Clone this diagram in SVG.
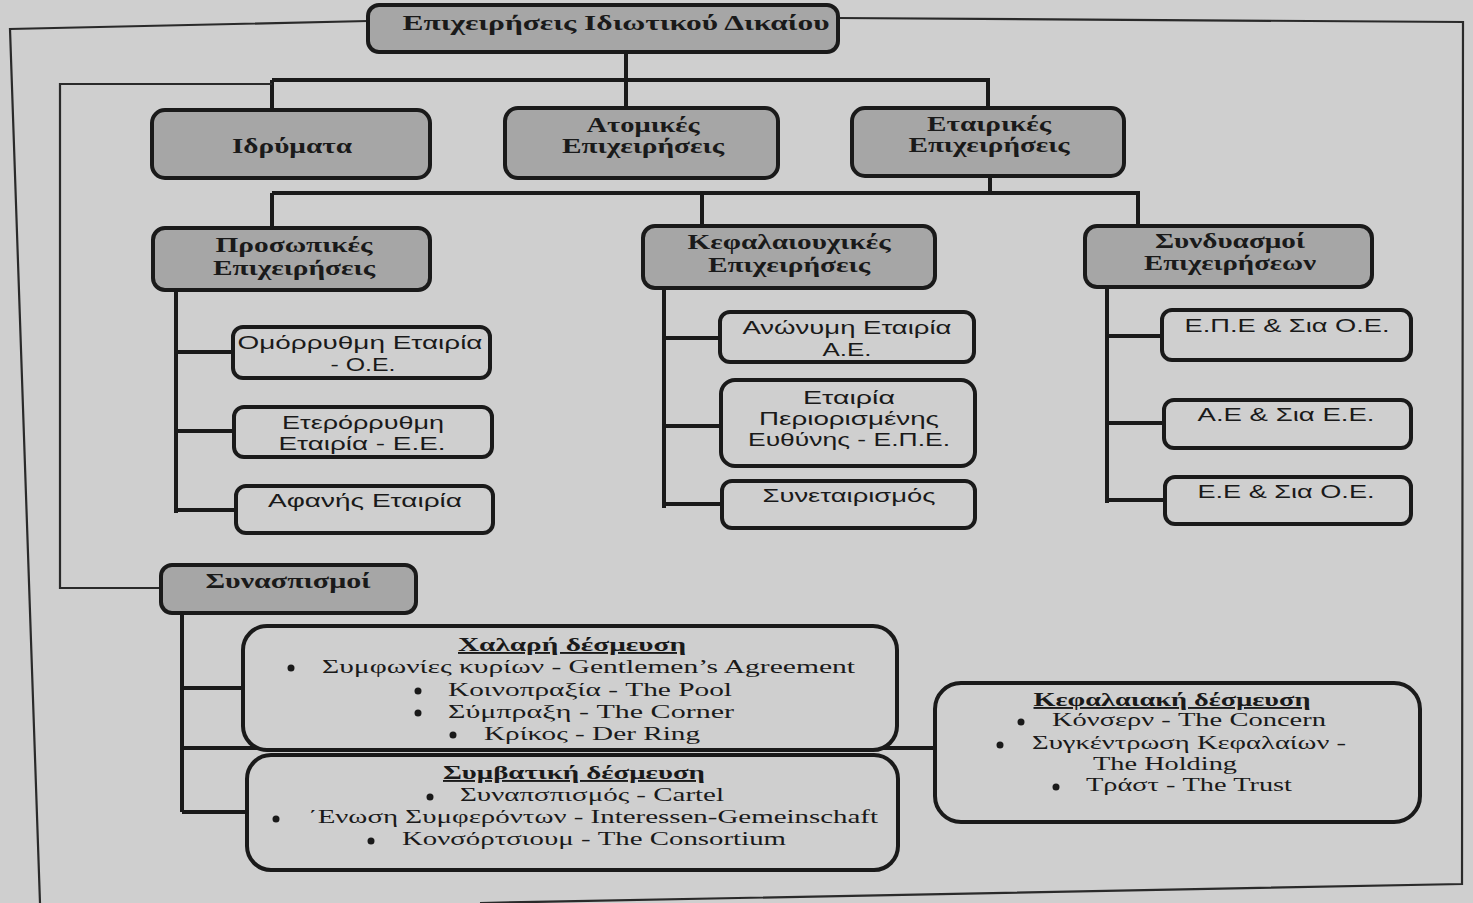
<svg xmlns="http://www.w3.org/2000/svg" width="1473" height="903" viewBox="0 0 1473 903">
<style>
.hd{fill:#a6a6a6;stroke:#1a1a1a;stroke-width:4}
.bx{fill:#cfcfcf;stroke:#1a1a1a;stroke-width:4}
.c{fill:none;stroke:#1a1a1a;stroke-width:4}
.thin{fill:none;stroke:#2a2a2a;stroke-width:2.2}
.h{font-family:"Liberation Serif","DejaVu Serif",serif;font-weight:bold;font-size:20px;fill:#1a1a1a}
.s{font-family:"Liberation Sans","DejaVu Sans",sans-serif;font-size:19px;fill:#1a1a1a}
.t{font-family:"Liberation Serif","DejaVu Serif",serif;font-size:19px;fill:#1a1a1a}
.u{font-family:"Liberation Serif","DejaVu Serif",serif;font-weight:bold;font-size:19px;fill:#1a1a1a;text-decoration:underline}
.b{fill:#1a1a1a}
</style>
<rect x="0" y="0" width="1473" height="903" fill="#cfcfcf"/>
<g id="frame">
<path class="thin" d="M368,21 L10,29 L40,903"/>
<path class="thin" d="M838,18 L1463,22 L1462,884 L480,903"/>
</g>
<g id="connectors">
<path class="c" d="M626,52 V80 M272,80 H990 M272,80 V110 M626,80 V108 M988,80 V108"/>
<path class="thin" d="M272,84 H60 V588 H161"/>
<path class="c" d="M990,176 V193 M272,193 H1140 M272,193 V228 M702,193 V226 M1138,193 V226"/>
<path class="c" d="M176,290 V513 M176,352 H233 M176,431 H234 M176,510 H236"/>
<path class="c" d="M664,288 V508 M664,338 H720 M664,426 H721 M664,504 H722"/>
<path class="c" d="M1107,287 V503 M1107,336 H1162 M1107,423 H1164 M1107,500 H1165"/>
<path class="c" d="M182,613 V812 M182,688 H243 M182,748 H935 M182,812 H247"/>
</g>
<g id="root">
<rect class="hd" x="368" y="5" width="470" height="47" rx="11"/>
<text class="h" x="616" y="30" text-anchor="middle" font-size="23" textLength="427" lengthAdjust="spacingAndGlyphs">Επιχειρήσεις Ιδιωτικού Δικαίου</text>
</g>
<g id="idrymata">
<rect class="hd" x="152" y="110" width="278" height="68" rx="13"/>
<text class="h" x="292" y="153" text-anchor="middle" textLength="120" lengthAdjust="spacingAndGlyphs">Ιδρύματα</text>
</g>
<g id="atomikes">
<rect class="hd" x="505" y="108" width="273" height="70" rx="13"/>
<text class="h" x="643" y="132" text-anchor="middle" textLength="113" lengthAdjust="spacingAndGlyphs">Ατομικές</text>
<text class="h" x="643" y="153" text-anchor="middle" textLength="162" lengthAdjust="spacingAndGlyphs">Επιχειρήσεις</text>
</g>
<g id="etairikes">
<rect class="hd" x="852" y="108" width="272" height="68" rx="13"/>
<text class="h" x="989" y="131" text-anchor="middle" textLength="124" lengthAdjust="spacingAndGlyphs">Εταιρικές</text>
<text class="h" x="989" y="152" text-anchor="middle" textLength="161" lengthAdjust="spacingAndGlyphs">Επιχειρήσεις</text>
</g>
<g id="prosopikes">
<rect class="hd" x="153" y="228" width="277" height="62" rx="12"/>
<text class="h" x="294" y="252" text-anchor="middle" textLength="157" lengthAdjust="spacingAndGlyphs">Προσωπικές</text>
<text class="h" x="294" y="275" text-anchor="middle" textLength="162" lengthAdjust="spacingAndGlyphs">Επιχειρήσεις</text>
</g>
<g id="kefalaiouxikes">
<rect class="hd" x="643" y="226" width="292" height="62" rx="12"/>
<text class="h" x="789" y="249" text-anchor="middle" textLength="203" lengthAdjust="spacingAndGlyphs">Κεφαλαιουχικές</text>
<text class="h" x="789" y="272" text-anchor="middle" textLength="162" lengthAdjust="spacingAndGlyphs">Επιχειρήσεις</text>
</g>
<g id="syndyasmoi">
<rect class="hd" x="1085" y="226" width="287" height="61" rx="12"/>
<text class="h" x="1230" y="248" text-anchor="middle" textLength="150" lengthAdjust="spacingAndGlyphs">Συνδυασμοί</text>
<text class="h" x="1230" y="270" text-anchor="middle" textLength="172" lengthAdjust="spacingAndGlyphs">Επιχειρήσεων</text>
</g>
<g id="omorrythmi">
<rect class="bx" x="233" y="327" width="257" height="51" rx="10"/>
<text class="s" x="360" y="349" text-anchor="middle" textLength="245" lengthAdjust="spacingAndGlyphs">Ομόρρυθμη Εταιρία</text>
<text class="s" x="363" y="371" text-anchor="middle" textLength="65" lengthAdjust="spacingAndGlyphs">- Ο.Ε.</text>
</g>
<g id="eterorrythmi">
<rect class="bx" x="234" y="407" width="258" height="50" rx="10"/>
<text class="s" x="363" y="429" text-anchor="middle" textLength="162" lengthAdjust="spacingAndGlyphs">Ετερόρρυθμη</text>
<text class="s" x="362" y="450" text-anchor="middle" textLength="167" lengthAdjust="spacingAndGlyphs">Εταιρία - Ε.Ε.</text>
</g>
<g id="afanis">
<rect class="bx" x="236" y="486" width="257" height="47" rx="10"/>
<text class="s" x="365" y="507" text-anchor="middle" textLength="194" lengthAdjust="spacingAndGlyphs">Αφανής Εταιρία</text>
</g>
<g id="anonymi">
<rect class="bx" x="720" y="312" width="254" height="50" rx="10"/>
<text class="s" x="847" y="334" text-anchor="middle" textLength="209" lengthAdjust="spacingAndGlyphs">Ανώνυμη Εταιρία</text>
<text class="s" x="847" y="356" text-anchor="middle" textLength="49" lengthAdjust="spacingAndGlyphs">Α.Ε.</text>
</g>
<g id="epe">
<rect class="bx" x="721" y="380" width="254" height="86" rx="14"/>
<text class="s" x="849" y="404" text-anchor="middle" textLength="92" lengthAdjust="spacingAndGlyphs">Εταιρία</text>
<text class="s" x="849" y="425" text-anchor="middle" textLength="180" lengthAdjust="spacingAndGlyphs">Περιορισμένης</text>
<text class="s" x="849" y="446" text-anchor="middle" textLength="202" lengthAdjust="spacingAndGlyphs">Ευθύνης - Ε.Π.Ε.</text>
</g>
<g id="synetairismos">
<rect class="bx" x="722" y="481" width="253" height="47" rx="10"/>
<text class="s" x="849" y="502" text-anchor="middle" textLength="173" lengthAdjust="spacingAndGlyphs">Συνεταιρισμός</text>
</g>
<g id="epe-sia-oe">
<rect class="bx" x="1162" y="310" width="249" height="50" rx="10"/>
<text class="s" x="1287" y="332" text-anchor="middle" textLength="205" lengthAdjust="spacingAndGlyphs">Ε.Π.Ε &amp; Σια Ο.Ε.</text>
</g>
<g id="ae-sia-ee">
<rect class="bx" x="1164" y="400" width="247" height="48" rx="10"/>
<text class="s" x="1286" y="421" text-anchor="middle" textLength="177" lengthAdjust="spacingAndGlyphs">Α.Ε &amp; Σια Ε.Ε.</text>
</g>
<g id="ee-sia-oe">
<rect class="bx" x="1165" y="477" width="246" height="47" rx="10"/>
<text class="s" x="1286" y="498" text-anchor="middle" textLength="177" lengthAdjust="spacingAndGlyphs">Ε.Ε &amp; Σια Ο.Ε.</text>
</g>
<g id="synaspismoi">
<rect class="hd" x="161" y="565" width="255" height="48" rx="11"/>
<text class="h" x="288" y="588" text-anchor="middle" textLength="165" lengthAdjust="spacingAndGlyphs">Συνασπισμοί</text>
</g>
<g id="xalari">
<rect class="bx" x="243" y="626" width="654" height="124" rx="24"/>
<text class="u" x="572" y="651" text-anchor="middle" textLength="228" lengthAdjust="spacingAndGlyphs">Χαλαρή δέσμευση</text>
<circle class="b" cx="291" cy="668" r="3.5"/>
<text class="t" x="322" y="673" textLength="533" lengthAdjust="spacingAndGlyphs">Συμφωνίες κυρίων - Gentlemen’s Agreement</text>
<circle class="b" cx="418" cy="691" r="3.5"/>
<text class="t" x="448" y="696" textLength="284" lengthAdjust="spacingAndGlyphs">Κοινοπραξία - The Pool</text>
<circle class="b" cx="418" cy="713" r="3.5"/>
<text class="t" x="448" y="718" textLength="286" lengthAdjust="spacingAndGlyphs">Σύμπραξη  - The Corner</text>
<circle class="b" cx="453" cy="735" r="3.5"/>
<text class="t" x="484" y="740" textLength="216" lengthAdjust="spacingAndGlyphs">Κρίκος - Der Ring</text>
</g>
<g id="symvatiki">
<rect class="bx" x="247" y="755" width="651" height="115" rx="24"/>
<text class="u" x="574" y="779" text-anchor="middle" textLength="262" lengthAdjust="spacingAndGlyphs">Συμβατική δέσμευση</text>
<circle class="b" cx="430" cy="797" r="3.5"/>
<text class="t" x="460" y="801" textLength="264" lengthAdjust="spacingAndGlyphs">Συναπσπισμός - Cartel</text>
<circle class="b" cx="276" cy="819" r="3.5"/>
<text class="t" x="308" y="823" textLength="570" lengthAdjust="spacingAndGlyphs">΄Ενωση Συμφερόντων - Interessen-Gemeinschaft</text>
<circle class="b" cx="371" cy="841" r="3.5"/>
<text class="t" x="402" y="845" textLength="384" lengthAdjust="spacingAndGlyphs">Κονσόρτσιουμ - The Consortium</text>
</g>
<g id="kefalaiaki">
<rect class="bx" x="935" y="683" width="485" height="139" rx="26"/>
<text class="u" x="1172" y="706" text-anchor="middle" textLength="277" lengthAdjust="spacingAndGlyphs">Κεφαλαιακή δέσμευση</text>
<circle class="b" cx="1021" cy="722" r="3.5"/>
<text class="t" x="1052" y="726" textLength="274" lengthAdjust="spacingAndGlyphs">Κόνσερν - The Concern</text>
<circle class="b" cx="1000" cy="745" r="3.5"/>
<text class="t" x="1032" y="749" textLength="314" lengthAdjust="spacingAndGlyphs">Συγκέντρωση Κεφαλαίων -</text>
<text class="t" x="1093" y="770" textLength="144" lengthAdjust="spacingAndGlyphs">The Holding</text>
<circle class="b" cx="1056" cy="787" r="3.5"/>
<text class="t" x="1086" y="791" textLength="206" lengthAdjust="spacingAndGlyphs">Τράστ - The Trust</text>
</g>
</svg>
